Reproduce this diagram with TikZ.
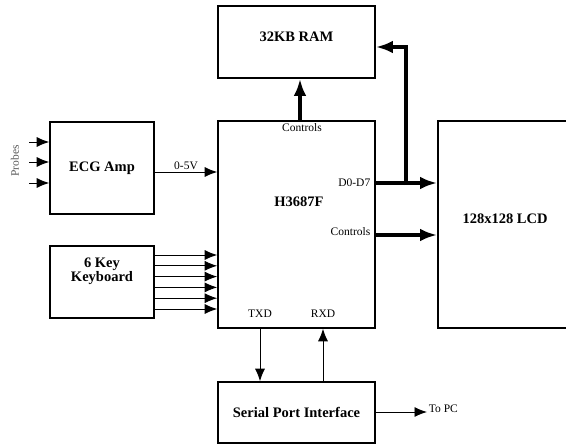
\documentclass[tikz,border=0pt]{standalone}
\usepackage{fontspec}
\setmainfont{Liberation Serif}
\usetikzlibrary{arrows.meta}

\begin{document}
\begin{tikzpicture}[x=1pt,y=-1pt,
  bloc/.style={draw, line width=1.6pt, inner sep=0pt, align=center, font=\fontsize{14.5}{15}\selectfont\bfseries},
  titre/.style={font=\fontsize{14.5}{15}\selectfont\bfseries, align=center, inner sep=0pt},
  petit/.style={font=\fontsize{11.5}{13}\selectfont, inner sep=1.5pt},
  fin/.style={-{Latex[length=12.5pt,width=10pt]}, line width=0.9pt},
  gros/.style={-{Latex[length=17pt,width=12.5pt]}, line width=4pt}]
  % Cadre
  \useasboundingbox (0,0) rectangle (566,445);
  \clip (0,0) rectangle (566,445);

  % Blocs
  \node[bloc, minimum width=157pt, minimum height=72pt] (ram) at (296.5,42) {};
  \node[titre] (ramnom) at (296.5,37) {32KB RAM};
  \node[bloc, minimum width=157pt, minimum height=207pt] (mcu) at (296.5,224.5) {};
  \node[titre] (mcunom) at (299,202) {H3687F};
  \node[bloc, minimum width=134pt, minimum height=207pt] (lcd) at (505,224.5) {};
  \node[titre] (lcdnom) at (505,219) {128x128 LCD};
  \node[bloc, minimum width=104pt, minimum height=92pt] (ecg) at (102,168) {ECG Amp};
  \node[bloc, minimum width=104pt, minimum height=72pt] (kbd) at (102,282) {};
  \node[titre, text depth=0pt] (kbdnom) at (102,270) {6 Key\\[-1pt]Keyboard};
  \node[bloc, minimum width=157pt, minimum height=61pt] (spi) at (296.5,412.5) {Serial Port Interface};

  % Textes du microcontroleur
  \node[petit] (ctlram) at (302,128) {Controls};
  \node[petit, anchor=east] (dbus) at (372,183) {D0-D7};
  \node[petit, anchor=east] (ctllcd) at (372,232) {Controls};
  \node[petit] (txd) at (260,314) {TXD};
  \node[petit] (rxd) at (323,314) {RXD};

  % Sondes
  \node[petit, rotate=90, text=black!65] (probes) at (15,161) {Probes};
  \foreach \y [count=\i] in {142,162,183} {
    \coordinate (p\i) at (29,\y);
    \draw[fin] (p\i) -- (p\i -| ecg.west);
  }

  % Signal analogique
  \coordinate (sig) at (0,172);
  \draw[fin] (sig -| ecg.east) -- node[petit, above] (vlab) {0-5V} (sig -| mcu.west);

  % Touches du clavier
  \foreach \i in {0,...,5} {
    \coordinate (k\i) at (0,{255+10.8*\i});
    \draw[fin] (k\i -| kbd.east) -- (k\i -| mcu.west);
  }

  % Bus vers la RAM et le LCD
  \draw[gros] ([xshift=3.5pt]mcu.north) -- ([xshift=3.5pt]ram.south);
  \coordinate (bus) at (406,183);
  \coordinate (ramin) at (406,47);
  \draw[gros] (bus -| mcu.east) -- (bus -| lcd.west);
  \draw[gros] ([yshift=-2pt]bus) |- (ramin -| ram.east);
  \coordinate (ctl) at (406,235);
  \draw[gros] (ctl -| mcu.east) -- (ctl -| lcd.west);

  % Liaison serie
  \coordinate (tx) at (260,0);
  \coordinate (rx) at (323,0);
  \draw[fin] (tx |- mcu.south) -- (tx |- spi.north);
  \draw[fin] (rx |- spi.north) -- (rx |- mcu.south);
  \coordinate (pc) at (427,412);
  \draw[fin] (pc -| spi.east) -- (pc) node[petit, right, yshift=3pt] (pclab) {To PC};
\end{tikzpicture}
\end{document}
